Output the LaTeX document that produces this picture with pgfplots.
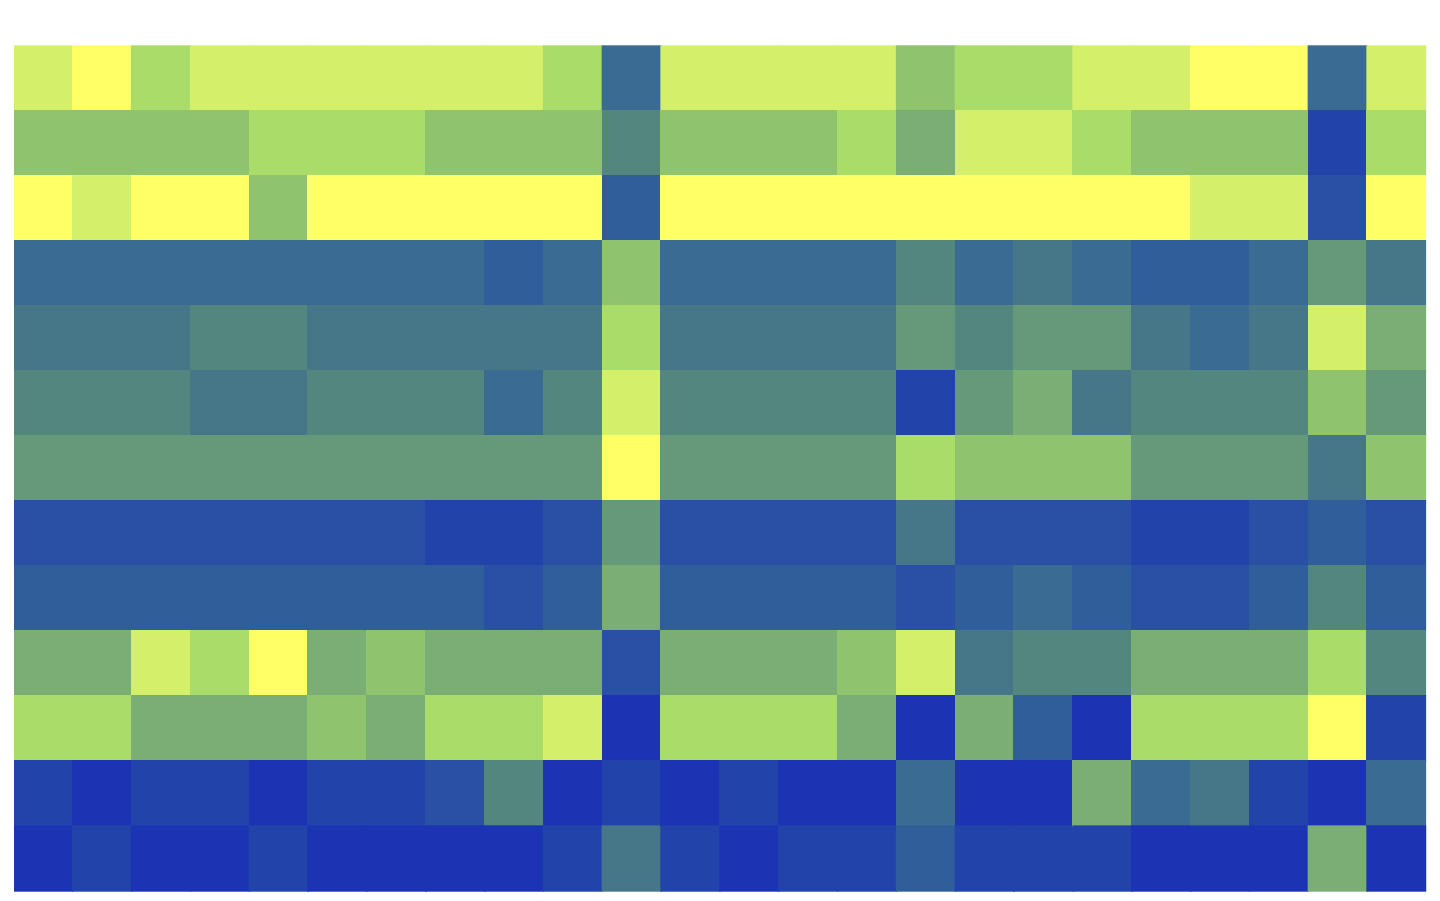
\documentclass[border=0pt]{standalone}
\usepackage{pgfplots}
\pgfplotsset{compat=1.18}

\begin{document}
\begin{tikzpicture}
\useasboundingbox (0,0) rectangle (14.4cm,9cm);
\begin{axis}[
    at={(0.14cm,0.09cm)}, anchor=south west,
    width=14.12cm, height=8.45cm, scale only axis,
    hide axis, enlargelimits=false,
    xmin=-0.5, xmax=23.5, ymin=-0.5, ymax=12.5,
    colormap={heat}{
        rgb255=(28,51,179) rgb255=(34,67,170) rgb255=(42,80,166)
        rgb255=(48,94,155) rgb255=(58,107,147) rgb255=(70,119,136)
        rgb255=(82,134,126) rgb255=(102,152,122) rgb255=(123,174,117)
        rgb255=(143,195,110) rgb255=(170,220,106) rgb255=(212,240,106)
        rgb255=(255,255,102)},
    point meta min=0, point meta max=12,
]
% y = 12 - row, row 0 at the top
\addplot[matrix plot*, mesh/cols=24, point meta=explicit] coordinates {
(0,12)[11] (1,12)[12] (2,12)[10] (3,12)[11] (4,12)[11] (5,12)[11] (6,12)[11] (7,12)[11] (8,12)[11] (9,12)[10] (10,12)[4] (11,12)[11] (12,12)[11] (13,12)[11] (14,12)[11] (15,12)[9] (16,12)[10] (17,12)[10] (18,12)[11] (19,12)[11] (20,12)[12] (21,12)[12] (22,12)[4] (23,12)[11]

(0,11)[9] (1,11)[9] (2,11)[9] (3,11)[9] (4,11)[10] (5,11)[10] (6,11)[10] (7,11)[9] (8,11)[9] (9,11)[9] (10,11)[6] (11,11)[9] (12,11)[9] (13,11)[9] (14,11)[10] (15,11)[8] (16,11)[11] (17,11)[11] (18,11)[10] (19,11)[9] (20,11)[9] (21,11)[9] (22,11)[1] (23,11)[10]

(0,10)[12] (1,10)[11] (2,10)[12] (3,10)[12] (4,10)[9] (5,10)[12] (6,10)[12] (7,10)[12] (8,10)[12] (9,10)[12] (10,10)[3] (11,10)[12] (12,10)[12] (13,10)[12] (14,10)[12] (15,10)[12] (16,10)[12] (17,10)[12] (18,10)[12] (19,10)[12] (20,10)[11] (21,10)[11] (22,10)[2] (23,10)[12]

(0,9)[4] (1,9)[4] (2,9)[4] (3,9)[4] (4,9)[4] (5,9)[4] (6,9)[4] (7,9)[4] (8,9)[3] (9,9)[4] (10,9)[9] (11,9)[4] (12,9)[4] (13,9)[4] (14,9)[4] (15,9)[6] (16,9)[4] (17,9)[5] (18,9)[4] (19,9)[3] (20,9)[3] (21,9)[4] (22,9)[7] (23,9)[5]

(0,8)[5] (1,8)[5] (2,8)[5] (3,8)[6] (4,8)[6] (5,8)[5] (6,8)[5] (7,8)[5] (8,8)[5] (9,8)[5] (10,8)[10] (11,8)[5] (12,8)[5] (13,8)[5] (14,8)[5] (15,8)[7] (16,8)[6] (17,8)[7] (18,8)[7] (19,8)[5] (20,8)[4] (21,8)[5] (22,8)[11] (23,8)[8]

(0,7)[6] (1,7)[6] (2,7)[6] (3,7)[5] (4,7)[5] (5,7)[6] (6,7)[6] (7,7)[6] (8,7)[4] (9,7)[6] (10,7)[11] (11,7)[6] (12,7)[6] (13,7)[6] (14,7)[6] (15,7)[1] (16,7)[7] (17,7)[8] (18,7)[5] (19,7)[6] (20,7)[6] (21,7)[6] (22,7)[9] (23,7)[7]

(0,6)[7] (1,6)[7] (2,6)[7] (3,6)[7] (4,6)[7] (5,6)[7] (6,6)[7] (7,6)[7] (8,6)[7] (9,6)[7] (10,6)[12] (11,6)[7] (12,6)[7] (13,6)[7] (14,6)[7] (15,6)[10] (16,6)[9] (17,6)[9] (18,6)[9] (19,6)[7] (20,6)[7] (21,6)[7] (22,6)[5] (23,6)[9]

(0,5)[2] (1,5)[2] (2,5)[2] (3,5)[2] (4,5)[2] (5,5)[2] (6,5)[2] (7,5)[1] (8,5)[1] (9,5)[2] (10,5)[7] (11,5)[2] (12,5)[2] (13,5)[2] (14,5)[2] (15,5)[5] (16,5)[2] (17,5)[2] (18,5)[2] (19,5)[1] (20,5)[1] (21,5)[2] (22,5)[3] (23,5)[2]

(0,4)[3] (1,4)[3] (2,4)[3] (3,4)[3] (4,4)[3] (5,4)[3] (6,4)[3] (7,4)[3] (8,4)[2] (9,4)[3] (10,4)[8] (11,4)[3] (12,4)[3] (13,4)[3] (14,4)[3] (15,4)[2] (16,4)[3] (17,4)[4] (18,4)[3] (19,4)[2] (20,4)[2] (21,4)[3] (22,4)[6] (23,4)[3]

(0,3)[8] (1,3)[8] (2,3)[11] (3,3)[10] (4,3)[12] (5,3)[8] (6,3)[9] (7,3)[8] (8,3)[8] (9,3)[8] (10,3)[2] (11,3)[8] (12,3)[8] (13,3)[8] (14,3)[9] (15,3)[11] (16,3)[5] (17,3)[6] (18,3)[6] (19,3)[8] (20,3)[8] (21,3)[8] (22,3)[10] (23,3)[6]

(0,2)[10] (1,2)[10] (2,2)[8] (3,2)[8] (4,2)[8] (5,2)[9] (6,2)[8] (7,2)[10] (8,2)[10] (9,2)[11] (10,2)[0] (11,2)[10] (12,2)[10] (13,2)[10] (14,2)[8] (15,2)[0] (16,2)[8] (17,2)[3] (18,2)[0] (19,2)[10] (20,2)[10] (21,2)[10] (22,2)[12] (23,2)[1]

(0,1)[1] (1,1)[0] (2,1)[1] (3,1)[1] (4,1)[0] (5,1)[1] (6,1)[1] (7,1)[2] (8,1)[6] (9,1)[0] (10,1)[1] (11,1)[0] (12,1)[1] (13,1)[0] (14,1)[0] (15,1)[4] (16,1)[0] (17,1)[0] (18,1)[8] (19,1)[4] (20,1)[5] (21,1)[1] (22,1)[0] (23,1)[4]

(0,0)[0] (1,0)[1] (2,0)[0] (3,0)[0] (4,0)[1] (5,0)[0] (6,0)[0] (7,0)[0] (8,0)[0] (9,0)[1] (10,0)[5] (11,0)[1] (12,0)[0] (13,0)[1] (14,0)[1] (15,0)[3] (16,0)[1] (17,0)[1] (18,0)[1] (19,0)[0] (20,0)[0] (21,0)[0] (22,0)[8] (23,0)[0]
};
\end{axis}
\end{tikzpicture}
\end{document}
